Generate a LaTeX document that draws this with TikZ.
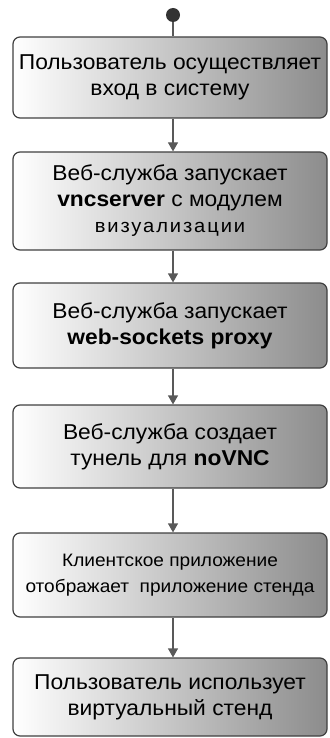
\documentclass[tikz,border=0pt]{standalone}
\usepackage{fontspec}
\setmainfont[FakeStretch=1.06]{Liberation Sans}
\usetikzlibrary{arrows.meta}

\begin{document}
\begin{tikzpicture}[x=1pt, y=-1pt, every node/.style={font=\fontsize{21.5}{26}\selectfont},
	stage/.style={draw=black!75, line width=1.2pt, rounded corners=7pt, left color=white, right color=black!45, minimum width=314pt, align=center, inner sep=0pt},
	flow/.style={draw=black!65, line width=1.2pt, -{Triangle[length=9pt, width=10pt]}}]
	\useasboundingbox (0,0) rectangle (329,738);
	\node[circle, fill=black!80, minimum size=14pt, inner sep=0pt] (start) at (173,15) {};
	\node[stage, minimum height=81pt] (login) at (170,77.5) {Пользователь осуществляет\\вход в систему};
	\node[stage, minimum height=98pt] (vnc) at (170,201) {Веб-служба запускает\\\textbf{vncserver} с модулем\\{\fontsize{19}{22}\selectfont\addfontfeature{LetterSpace=10}визуализации}};
	\node[stage, minimum height=85pt] (proxy) at (170,325.5) {Веб-служба запускает\\\textbf{web-sockets proxy}};
	\node[stage, minimum height=83pt] (tunnel) at (170,446.5) {Веб-служба создает\\тунель для \textbf{noVNC}};
	\node[stage, minimum height=84pt, font=\fontsize{18}{26}\selectfont] (client) at (170,575) {Клиентское приложение\\отображает\ \ приложение стенда};
	\node[stage, minimum height=78pt] (use) at (170,697) {Пользователь использует\\виртуальный стенд};
	\draw[draw=black!65, line width=1.2pt] (start) -- (login.north -| start);
	\draw[flow] (login.south -| start) -- (vnc.north -| start);
	\draw[flow] (vnc.south -| start) -- (proxy.north -| start);
	\draw[flow] (proxy.south -| start) -- (tunnel.north -| start);
	\draw[flow] (tunnel.south -| start) -- (client.north -| start);
	\draw[flow] (client.south -| start) -- (use.north -| start);
\end{tikzpicture}
\end{document}
